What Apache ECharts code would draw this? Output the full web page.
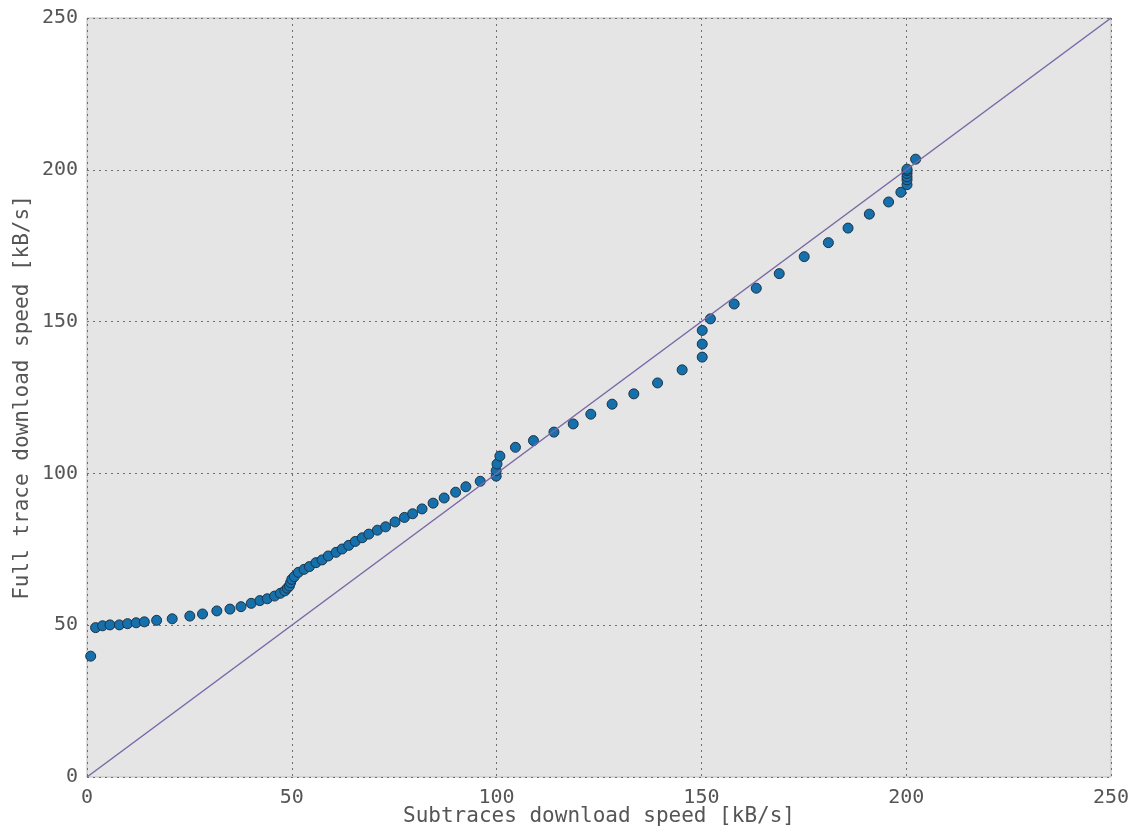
<!DOCTYPE html>
<html>
<head>
<meta charset="utf-8">
<title>Subtraces vs full trace download speed</title>
<script src="https://cdn.jsdelivr.net/npm/echarts@6/dist/echarts.min.js"></script>
<style>
  html, body { margin: 0; padding: 0; background: #ffffff; }
  #chart { width: 1141px; height: 830px; }
</style>
</head>
<body>
<div id="chart"></div>
<script>
// Download speed per trace [kB/s]: subtraces (x) vs full trace (y)
const subtraceSpeed = [
  0.9, 2.1, 3.8, 5.6, 7.9, 9.9, 12.0, 14.0, 17.0, 20.8, 25.1, 28.2, 31.7, 34.9,
  37.6, 40.1, 42.2, 44.0, 45.8, 47.2, 48.3, 48.9, 49.4, 49.7, 50.0, 50.6, 51.6,
  53.0, 54.3, 55.9, 57.4, 58.9, 60.8, 62.3, 63.9, 65.5, 67.2, 68.8, 70.9, 72.9,
  75.2, 77.5, 79.5, 81.8, 84.5, 87.2, 90.0, 92.5, 96.0, 99.9, 99.9, 100.1, 100.8,
  104.6, 109.0, 114.0, 118.7, 123.0, 128.2, 133.5, 139.3, 145.3, 150.2, 150.2,
  150.2, 152.2, 158.0, 163.4, 169.0, 175.1, 181.0, 185.8, 191.0, 195.7, 198.7,
  200.2, 200.2, 200.2, 200.2, 200.2, 200.2, 202.3
];
const fullTraceSpeed = [
  39.8, 49.2, 49.8, 50.1, 50.1, 50.5, 50.8, 51.1, 51.6, 52.1, 53.0, 53.7, 54.7, 55.3,
  56.1, 57.2, 58.1, 58.7, 59.6, 60.5, 61.3, 62.2, 62.9, 64.0, 65.1, 66.0, 67.4,
  68.4, 69.3, 70.6, 71.5, 72.8, 74.0, 75.1, 76.3, 77.6, 78.8, 80.0, 81.3, 82.4,
  84.0, 85.5, 86.7, 88.3, 90.2, 91.9, 93.8, 95.6, 97.4, 99.1, 100.9, 103.1, 105.7,
  108.6, 110.8, 113.6, 116.3, 119.5, 122.8, 126.2, 129.8, 134.1, 138.3, 142.6,
  147.1, 150.9, 155.8, 161.0, 165.8, 171.4, 176.0, 180.8, 185.4, 189.4, 192.6,
  195.1, 196.7, 197.7, 198.8, 199.7, 200.2, 203.5
];
// Reference line y = x across the whole range
const identityEnds = [0, 250];
const tickValues = [0, 50, 100, 150, 200, 250];

const points = subtraceSpeed.map((x, i) => [x, fullTraceSpeed[i]]);
const identityLine = identityEnds.map(v => [v, v]);

const FONT = '"DejaVu Sans Mono", monospace';
const TEXT = '#555555';

function makeAxis(name, isX) {
  return {
    type: 'value',
    min: tickValues[0],
    max: tickValues[tickValues.length - 1],
    interval: 50,
    name: name,
    nameLocation: 'middle',
    nameMoveOverlap: false,
    nameGap: isX ? 29 : 54,
    nameTextStyle: { fontFamily: FONT, fontSize: 21, color: TEXT },
    axisLine: { show: false },
    axisTick: { show: false },
    axisLabel: {
      fontFamily: FONT, fontSize: 20, color: TEXT,
      margin: isX ? 11 : 9
    },
    splitLine: {
      show: true,
      lineStyle: { color: '#6f6f6f', type: [2, 4], width: 1 }
    }
  };
}

const chart = echarts.init(document.getElementById('chart'), null, { renderer: 'canvas' });
chart.setOption({
  animation: false,
  backgroundColor: '#ffffff',
  grid: {
    left: 87, right: 30, top: 18, bottom: 53,
    outerBoundsMode: 'none',
    containLabel: false,
    show: true,
    backgroundColor: '#e5e5e5',
    borderColor: '#bcbcbc',
    borderWidth: 1
  },
  xAxis: makeAxis('Subtraces download speed [kB/s]', true),
  yAxis: makeAxis('Full trace download speed [kB/s]', false),
  series: [
    {
      type: 'scatter',
      data: points,
      symbol: 'circle',
      symbolSize: 10,
      itemStyle: { color: '#1670ab', borderColor: '#1c3447', borderWidth: 1, opacity: 1 },
      z: 2
    },
    {
      type: 'line',
      data: identityLine,
      showSymbol: false,
      symbol: 'none',
      lineStyle: { color: '#7a68a6', width: 1.5 },
      z: 3
    }
  ]
});
</script>
</body>
</html>
